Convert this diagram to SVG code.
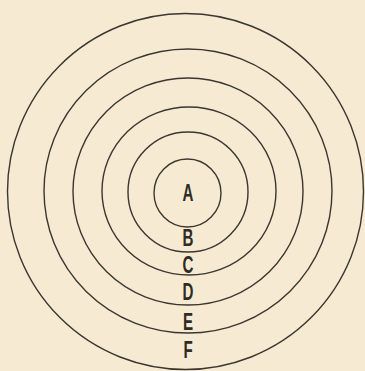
<svg xmlns="http://www.w3.org/2000/svg" width="365" height="371" viewBox="0 0 365 371">
<style>
.ring{fill:none;stroke:#3b362f;stroke-width:1.4}
.lbl{font-family:"Liberation Sans",Arial,sans-serif;font-size:24px;font-weight:bold;fill:#2f2b25;text-anchor:middle}
</style>
<rect width="365" height="371" fill="#f6ead2"/>
<g id="ring-F"><ellipse class="ring" cx="185.5" cy="191.5" rx="178" ry="178"/></g>
<g id="ring-E"><ellipse class="ring" cx="188" cy="191" rx="144" ry="142"/></g>
<g id="ring-D"><ellipse class="ring" cx="188" cy="191.5" rx="115" ry="113.5"/></g>
<g id="ring-C"><ellipse class="ring" cx="189" cy="191" rx="87" ry="84"/></g>
<g id="ring-B"><ellipse class="ring" cx="188" cy="192" rx="60" ry="60"/></g>
<g id="ring-A"><ellipse class="ring" cx="187.5" cy="193" rx="33.5" ry="34"/></g>
<g transform="translate(188,0) scale(0.63,1)">
<text class="lbl" x="0" y="201">A</text>
<text class="lbl" x="0" y="246">B</text>
<text class="lbl" x="0" y="273">C</text>
<text class="lbl" x="0" y="300">D</text>
<text class="lbl" x="0" y="330">E</text>
<text class="lbl" x="0" y="358">F</text>
</g>
</svg>
